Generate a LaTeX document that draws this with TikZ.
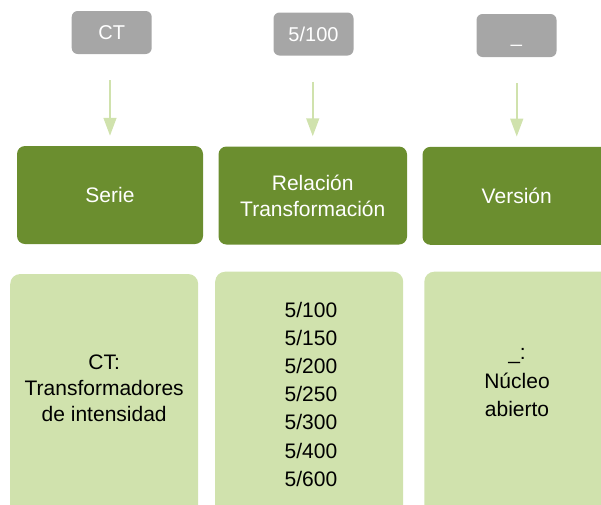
\documentclass[tikz,border=0pt]{standalone}
\usepackage{fontspec}
\setmainfont{Liberation Sans}
\usetikzlibrary{arrows.meta}
\definecolor{grayfill}{HTML}{A6A6A6}
\definecolor{darkgreen}{HTML}{6B8E2F}
\definecolor{lightgreen}{HTML}{D0E2AD}
\tikzset{
  graybox/.style={rectangle, rounded corners=6pt, fill=grayfill, text=white, inner sep=0pt,
    minimum width=80pt, minimum height=43pt, text height=14.5pt, text depth=0pt,
    font=\fontsize{20}{24}\selectfont},
  headbox/.style={rectangle, rounded corners=8pt, fill=darkgreen, text=white, inner sep=0pt,
    minimum width=187pt, minimum height=98pt, align=center, font=\fontsize{21}{26}\selectfont},
  infobox/.style={rectangle, rounded corners=10pt, fill=lightgreen, inner sep=0pt,
    minimum width=188pt, minimum height=290pt},
  infotext/.style={align=center, inner sep=0pt, text=black},
  flowarrow/.style={draw=lightgreen, line width=2.3pt,
    -{Triangle[width=12.7pt,length=18pt]}, shorten <=26pt, shorten >=10pt}
}
\begin{document}
\begin{tikzpicture}[x=1pt,y=-1pt]
\path[use as bounding box, clip] (0,0) rectangle (601,504);
% gray code boxes
\node[graybox] (g1) at (111.7,32.5) {CT};
\node[graybox] (g2) at (313.5,34) {5/100};
\node[graybox] (g3) at (516.5,35.5) {\_};
% dark green heading boxes
\node[headbox, minimum width=186pt] (s1) at (110,195) {Serie};
\node[headbox, minimum width=188.5pt] (s2) at (312.75,195.5) {Relación\\Transformación};
\node[headbox, minimum width=188.5pt] (s3) at (516.75,195.8) {Versión};
% light green info boxes
\node[infobox] (l1) at (104.2,419) {};
\node[infobox] (l2) at (309.2,416.7) {};
\node[infobox] (l3) at (518.3,416.7) {};
% info texts
\node[infotext, font=\fontsize{21}{26}\selectfont] (t1) at (104.2,388.6)
  {CT:\\Transformadores\\de intensidad};
\node[infotext, font=\fontsize{21}{28.2}\selectfont] (t2) at (311,394.2)
  {5/100\\5/150\\5/200\\5/250\\5/300\\5/400\\5/600};
\node[infotext, font=\fontsize{21}{28.5}\selectfont] (t3) at (517,383)
  {\_:\\Núcleo\\abierto};
% arrows
\draw[flowarrow] (s1.north |- g1.south) -- (s1.north);
\draw[flowarrow] (s2.north |- g2.south) -- (s2.north);
\draw[flowarrow] (s3.north |- g3.south) -- (s3.north);
\end{tikzpicture}
\end{document}
